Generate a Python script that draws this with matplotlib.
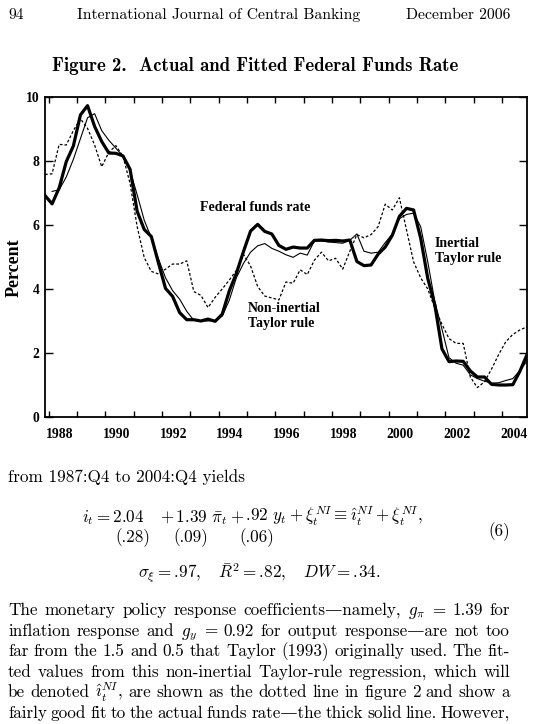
import numpy as np
import pandas as pd
import matplotlib
matplotlib.use("Agg")
import matplotlib.pyplot as plt

# quarterly data, 1987:Q4 - 2004:Q4
quarters = pd.period_range("1987Q4", "2004Q4", freq="Q")

fed_funds = [6.92, 6.66, 7.16, 7.98, 8.47, 9.44, 9.73, 9.08, 8.61, 8.25, 8.24, 8.16, 7.74,
             6.43, 5.86, 5.64, 4.82, 4.02, 3.77, 3.26, 3.04, 3.04, 3.00, 3.06, 2.99,
             3.21, 3.94, 4.49, 5.17, 5.81, 6.02, 5.80, 5.72, 5.36, 5.24, 5.31, 5.28,
             5.28, 5.52, 5.53, 5.51, 5.52, 5.50, 5.53, 4.86, 4.73, 4.75, 5.09, 5.31,
             5.68, 6.27, 6.52, 6.47, 5.59, 4.33, 3.50, 2.13, 1.73, 1.75, 1.74, 1.44,
             1.25, 1.25, 1.02, 1.00, 1.00, 1.01, 1.43, 1.95]

inertial = [np.nan, 7.05, 7.10, 7.50, 8.05, 8.70, 9.35, 9.48, 8.95, 8.65, 8.40, 8.15, 7.70,
            6.95, 6.15, 5.60, 4.95, 4.35, 3.95, 3.68, 3.30, 3.02, 3.00, 3.00, 3.02,
            3.15, 3.65, 4.35, 4.80, 5.15, 5.35, 5.42, 5.27, 5.18, 5.07, 4.99, 5.12,
            5.06, 5.50, 5.50, 5.47, 5.45, 5.43, 5.52, 5.72, 5.18, 5.12, 5.15, 5.45,
            5.72, 6.20, 6.33, 6.37, 5.95, 4.85, 3.60, 2.75, 1.85, 1.68, 1.62, 1.32,
            1.20, 1.12, 1.06, 1.07, 1.14, 1.20, 1.45, 1.75]

non_inertial = [7.58, 7.60, 8.52, 8.50, 8.95, 9.32, 9.02, 8.50, 7.82, 8.27, 8.48, 8.15, 7.30,
                5.95, 4.98, 4.55, 4.47, 4.62, 4.78, 4.78, 4.88, 3.92, 3.80, 3.42, 3.74,
                4.00, 4.28, 4.58, 5.08, 4.72, 4.08, 3.78, 3.72, 3.66, 4.22, 4.18, 4.60,
                4.45, 4.90, 5.15, 4.88, 4.96, 4.62, 5.18, 5.70, 5.60, 5.70, 5.95, 6.65,
                6.47, 6.85, 5.85, 4.85, 4.35, 4.00, 3.40, 2.90, 2.45, 2.30, 2.30, 1.25,
                0.92, 1.10, 1.50, 1.95, 2.35, 2.58, 2.72, 2.82]

year_ticks = list(range(1988, 2005))
label_years = [1988, 1990, 1992, 1994, 1996, 1998, 2000, 2002, 2004]
y_ticks = [0, 2, 4, 6, 8, 10]

body_lines = [
    ["The", "monetary", "policy", "response", "coefficients\u2014namely,", r"$g_\pi$", "=", "1.39", "for"],
    ["inflation", "response", "and", r"$g_y$", "=", "0.92", "for", "output", "response\u2014are", "not", "too"],
    ["far", "from", "the", "1.5", "and", "0.5", "that", "Taylor", "(1993)", "originally", "used.", "The", "fit-"],
    ["ted", "values", "from", "this", "non-inertial", "Taylor-rule", "regression,", "which", "will"],
    ["be", "denoted", r"$\hat{\imath}_t^{NI}$,", "are", "shown", "as", "the", "dotted", "line", "in", "figure", "2", "and", "show", "a"],
    ["fairly", "good", "fit", "to", "the", "actual", "funds", "rate\u2014the", "thick", "solid", "line.", "However,"],
]

W, H = 538, 724
plt.rcParams['mathtext.fontset'] = 'cm'
TEXT_FONT = ['cmr10', 'DejaVu Serif']
CHART_FONT = 'Liberation Serif'
BODY_SIZE = 12.3


def fx(px):
    return px / W


def fy(py):
    return 1 - py / H


def justify(fig, words, base_y, x0=8, x1=510):
    r = fig.canvas.get_renderer()
    texts = [fig.text(0, fy(base_y), w, family=TEXT_FONT, size=BODY_SIZE, va='baseline') for w in words]
    widths = [t.get_window_extent(r).width for t in texts]
    gap = (x1 - x0 - sum(widths)) / (len(words) - 1)
    x = x0
    for t, w in zip(texts, widths):
        t.set_x(fx(x))
        x += w + gap


def main():
    fig = plt.figure(figsize=(W / 100, H / 100), dpi=100)
    fig.patch.set_facecolor('white')

    # page header and caption
    fig.text(fx(8), fy(19), "94", family=TEXT_FONT, size=11.3, va='baseline')
    fig.text(fx(77), fy(19), "International Journal of Central Banking", family=TEXT_FONT, size=11.3, va='baseline')
    fig.text(fx(510), fy(19), "December 2006", family=TEXT_FONT, size=11.3, va='baseline', ha='right')
    fig.text(fx(255), fy(71), "Figure 2.  Actual and Fitted Federal Funds Rate", family=['cmb10', 'DejaVu Serif'],
             size=13.5, va='baseline', ha='center')

    # chart
    ax = fig.add_axes([fx(45), fy(417), (527 - 45) / W, (417 - 97) / H])
    x = quarters.year + (quarters.quarter - 0.5) / 4
    ax.plot(x, non_inertial, color='black', lw=0.9, ls=(0, (2.2, 1.6)))
    ax.plot(x, inertial, color='black', lw=0.8)
    ax.plot(x, fed_funds, color='black', lw=2.3)
    ax.set_xlim(x[0], x[-1])
    ax.set_ylim(0, 10)

    ax.set_xticks(year_ticks)
    ax.set_xticklabels([])
    ax.set_xticks([yr + 0.4 for yr in label_years], minor=True)
    ax.set_xticklabels([str(yr) for yr in label_years], minor=True)
    ax.tick_params(axis='x', which='major', direction='in', length=4, width=1, top=True)
    ax.tick_params(axis='x', which='minor', length=0, pad=8)
    ax.set_yticks(y_ticks)
    ax.tick_params(axis='y', direction='in', length=6, width=1, right=True, pad=4)
    for lbl in ax.get_xticklabels(minor=True) + ax.get_yticklabels():
        lbl.set_fontfamily(CHART_FONT)
        lbl.set_fontweight('bold')
        lbl.set_fontsize(9.8)
    for s in ax.spines.values():
        s.set_linewidth(1.3)
    fig.text(fx(14), fy(268), "Percent", family=CHART_FONT, weight='bold', size=13, rotation=90,
             ha='center', va='center')

    ax.text(1995.28, 6.56, "Federal funds rate", family=CHART_FONT, weight='bold', size=10,
            ha='center', va='center')
    ax.text(1995.04, 3.16, "Non-inertial\nTaylor rule", family=CHART_FONT, weight='bold', size=10,
            ha='left', va='center', linespacing=1.15)
    ax.text(2001.63, 5.19, "Inertial\nTaylor rule", family=CHART_FONT, weight='bold', size=10,
            ha='left', va='center', linespacing=1.15)

    # text below the figure
    fig.text(fx(8), fy(482), "from 1987:Q4 to 2004:Q4 yields", family=TEXT_FONT, size=BODY_SIZE, va='baseline')
    fig.text(fx(82), fy(522), r"$i_t = 2.04$", size=BODY_SIZE, va='baseline')
    fig.text(fx(160), fy(522), r"$+\,1.39\ \bar{\pi}_t +$", size=BODY_SIZE, va='baseline')
    fig.text(fx(245), fy(522), r"$.\!92\ y_t + \xi_t^{NI} \equiv \hat{\imath}_t^{NI} + \xi_t^{NI},$",
             size=BODY_SIZE, va='baseline')
    for cx, s in [(133, "(.28)"), (191, "(.09)"), (257, "(.06)")]:
        fig.text(fx(cx), fy(542), s, family=TEXT_FONT, size=BODY_SIZE, va='baseline', ha='center')
    fig.text(fx(510), fy(536), "(6)", family=TEXT_FONT, size=BODY_SIZE, va='baseline', ha='right')
    fig.text(fx(259), fy(578), r"$\sigma_\xi = .\!97, \quad \bar{R}^2 = .\!82, \quad DW = .\!34.$",
             size=BODY_SIZE, va='baseline', ha='center')

    for i, words in enumerate(body_lines):
        justify(fig, words, 615 + 20.6 * i)

    plt.savefig('out.png', dpi=100, facecolor='white')
    plt.close()


if __name__ == '__main__':
    main()
